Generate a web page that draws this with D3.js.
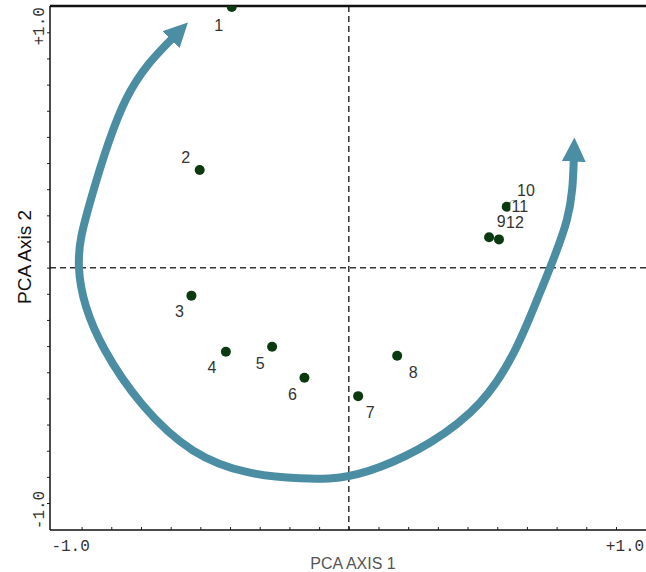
<!DOCTYPE html>
<html>
<head>
<meta charset="utf-8">
<script src="https://cdn.jsdelivr.net/npm/d3@7"></script>
<style>
  html, body { margin: 0; padding: 0; background: #fff; }
  svg { display: block; }
</style>
</head>
<body>
<svg width="646" height="572"></svg>
<script>
// sample scores on the first two PCA axes
const sampleIds = ['1', '2', '3', '4', '5', '6', '7', '8', '9', '10', '11', '12'];
const axis1 = [-0.438, -0.558, -0.589, -0.460, -0.287, -0.166, 0.035, 0.181, 0.525, 0.618, 0.591, 0.562];
const axis2 = [1.108, 0.415, -0.119, -0.357, -0.336, -0.468, -0.546, -0.374, 0.129, 0.266, 0.259, 0.120];

// hand drawn trend arrow, in axis units
const trendAxis1 = [-0.659, -0.835, -0.966, -1.010, -0.913, -0.584, -0.183, 0.116, 0.490, 0.704, 0.816, 0.842];
const trendAxis2 = [0.976, 0.712, 0.287, 0.003, -0.350, -0.776, -0.895, -0.847, -0.575, -0.138, 0.202, 0.461];

const tickLabels = ['-1.0', '+1.0'];
const tickStops = d3.range(-9, 10).map(i => i / 9);

const svg = d3.select('svg');
const frame = {left: 50, right: 646, top: 6, bottom: 530};

const x = d3.scaleLinear().domain([-1, 1]).range([81.6, 616]);
const y = d3.scaleLinear().domain([-1, 1]).range([503, 32.3]);

svg.append('defs').append('clipPath').attr('id', 'plotClip')
  .append('rect')
  .attr('x', frame.left).attr('y', frame.top)
  .attr('width', frame.right - frame.left).attr('height', frame.bottom - frame.top);

svg.select('defs').append('marker')
  .attr('id', 'head')
  .attr('viewBox', '0 0 10 10')
  .attr('refX', 1).attr('refY', 5)
  .attr('markerUnits', 'userSpaceOnUse')
  .attr('markerWidth', 24).attr('markerHeight', 24)
  .attr('orient', 'auto-start-reverse')
  .append('path')
  .attr('d', 'M0,0L10,5L0,10Z')
  .attr('fill', '#4b8da2');

// zero lines
svg.append('line')
  .attr('x1', x(0)).attr('x2', x(0))
  .attr('y1', frame.top).attr('y2', frame.bottom)
  .attr('stroke', '#333').attr('stroke-width', 1.5).attr('stroke-dasharray', '6,4');
svg.append('line')
  .attr('x1', frame.left).attr('x2', frame.right)
  .attr('y1', y(0)).attr('y2', y(0))
  .attr('stroke', '#333').attr('stroke-width', 1.5).attr('stroke-dasharray', '6,4');

// axes: x ticks point inward, y ticks outward
const xAxis = svg.append('g')
  .attr('transform', 'translate(0,' + frame.bottom + ')')
  .call(d3.axisBottom(x).tickValues(tickStops).tickSize(-3).tickFormat(''));
xAxis.select('.domain').remove();
const yAxis = svg.append('g')
  .attr('transform', 'translate(' + frame.left + ',0)')
  .call(d3.axisLeft(y).tickValues(tickStops).tickSize(3).tickFormat(''));
yAxis.select('.domain').remove();
svg.selectAll('.tick line').attr('stroke', '#222');

svg.append('line')
  .attr('x1', frame.left).attr('x2', frame.right)
  .attr('y1', frame.bottom).attr('y2', frame.bottom)
  .attr('stroke', '#111').attr('stroke-width', 1.5);
svg.append('line')
  .attr('x1', frame.left).attr('x2', frame.left)
  .attr('y1', frame.top).attr('y2', frame.bottom)
  .attr('stroke', '#111').attr('stroke-width', 1.5);
svg.append('line')
  .attr('x1', frame.left).attr('x2', frame.right)
  .attr('y1', frame.top).attr('y2', frame.top)
  .attr('stroke', '#111').attr('stroke-width', 2.5);

// tick labels
const monoFont = '"Liberation Mono", "DejaVu Sans Mono", monospace';
svg.selectAll('.xlab')
  .data(tickLabels)
  .enter().append('text')
  .attr('class', 'xlab')
  .attr('x', (d, i) => x(i ? 1 : -1) + (i ? 9 : -11))
  .attr('y', 551)
  .attr('text-anchor', 'middle')
  .attr('font-family', monoFont).attr('font-size', 16).attr('fill', '#333')
  .text(d => d);
svg.selectAll('.ylab')
  .data(tickLabels)
  .enter().append('text')
  .attr('class', 'ylab')
  .attr('transform', (d, i) => 'translate(44,' + (y(i ? 1 : -1) + (i ? -6 : 7)) + ') rotate(-90)')
  .attr('text-anchor', 'middle')
  .attr('font-family', monoFont).attr('font-size', 16).attr('fill', '#333')
  .text(d => d);

// axis titles
svg.append('text')
  .attr('x', 353).attr('y', 569)
  .attr('text-anchor', 'middle')
  .attr('font-family', 'Liberation Sans, Arial, sans-serif').attr('font-size', 16).attr('fill', '#555')
  .text('PCA AXIS 1');
svg.append('text')
  .attr('transform', 'translate(31,257) rotate(-90)')
  .attr('text-anchor', 'middle')
  .attr('font-family', 'Liberation Sans, Arial, sans-serif').attr('font-size', 19).attr('fill', '#111')
  .text('PCA Axis 2');

// trend arrow
const trend = trendAxis1.map((v, i) => [v, trendAxis2[i]]);
svg.append('path')
  .datum(trend)
  .attr('d', d3.line().x(d => x(d[0])).y(d => y(d[1])).curve(d3.curveNatural))
  .attr('fill', 'none')
  .attr('stroke', '#4b8da2')
  .attr('stroke-width', 8)
  .attr('marker-start', 'url(#head)')
  .attr('marker-end', 'url(#head)');

// samples
const samples = sampleIds.map((id, i) => ({id: id, a1: axis1[i], a2: axis2[i]}));
const labelOffsets = [[-13, 18], [-14, -13], [-12, 16], [-14, 16], [-12, 17], [-12, 16],
  [12, 16], [16, 17], [12, -16], [12, -15], [13, 0], [16, -17]];

svg.append('g').attr('clip-path', 'url(#plotClip)')
  .selectAll('circle')
  .data(samples)
  .enter().append('circle')
  .attr('cx', d => x(d.a1))
  .attr('cy', d => y(d.a2))
  .attr('r', 5)
  .attr('fill', '#0b3a10');

const labels = svg.append('g').selectAll('g')
  .data(samples)
  .enter().append('g')
  .attr('transform', (d, i) => 'translate(' + (x(d.a1) + labelOffsets[i][0]) + ',' + (y(d.a2) + labelOffsets[i][1]) + ')');
labels.append('rect');
labels.append('text')
  .attr('text-anchor', 'middle')
  .attr('dy', '0.36em')
  .attr('font-family', 'Liberation Sans, Arial, sans-serif')
  .attr('font-size', 16)
  .attr('fill', '#333')
  .text(d => d.id);
labels.each(function() {
  const g = d3.select(this);
  const b = g.select('text').node().getBBox();
  g.select('rect')
    .attr('x', b.x - 1).attr('y', b.y + 2)
    .attr('width', b.width + 2).attr('height', b.height - 4)
    .attr('fill', '#fff');
});
</script>
</body>
</html>
